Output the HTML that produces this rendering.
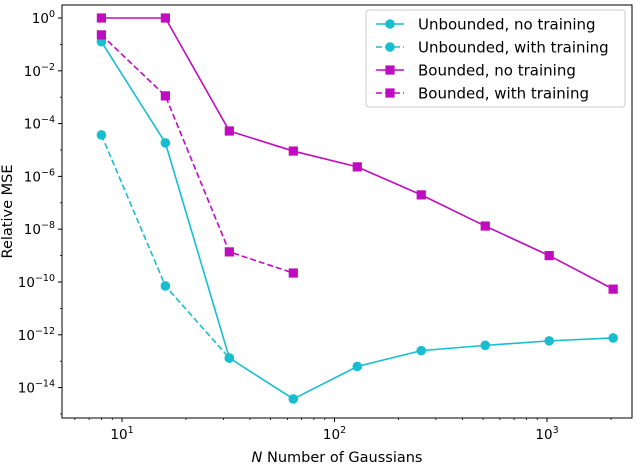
<!DOCTYPE html>
<html><head><meta charset="utf-8"><style>
body{margin:0;background:#fff;}
svg{font-family:"DejaVu Sans","Liberation Sans",sans-serif;}
</style></head><body>
<svg id="chart" width="640" height="466" xmlns="http://www.w3.org/2000/svg"></svg>
<script>
const nValues=[8,16,32,64,128,256,512,1024,2048];
const unboundedNoTrain=[-0.9,-4.73,-12.88,-14.43,-13.2,-12.6,-12.4,-12.23,-12.12];
const unboundedTrainN=[8,16,32];
const unboundedTrain=[-4.43,-10.15,-12.88];
const boundedNoTrain=[0,0,-4.28,-5.04,-5.64,-6.7,-7.88,-9.0,-10.27];
const boundedTrainN=[8,16,32,64];
const boundedTrain=[-0.64,-2.95,-8.86,-9.66];
const yTickExps=[0,-2,-4,-6,-8,-10,-12,-14];
const xTickExps=[1,2,3];

const svg=document.getElementById('chart');
const NS='http://www.w3.org/2000/svg';
const L=62,R=632,T=5,B=418;
function xs(n){return 122+212.5*(Math.log10(n)-1);}
function ys(e){return 18-26.4*e;}
function mk(tag,attrs,parent){const el=document.createElementNS(NS,tag);for(const k in attrs)el.setAttribute(k,attrs[k]);(parent||svg).appendChild(el);return el;}

const frame=mk('rect',{x:L,y:T,width:R-L,height:B-T,fill:'none',stroke:'#000','stroke-width':1});



xTickExps.forEach(e=>{
  const x=xs(Math.pow(10,e));
  const t=mk('line',{x1:x,x2:x,y1:B,y2:B+4,stroke:'#000'});
  
  
  const lb=mk('text',{x:x,y:B+21,'text-anchor':'middle','font-size':13.5});
  
  
  lb.innerHTML='10<tspan dy="-6" font-size="9.5">'+e+'</tspan>';
});
for(let d=0;d<4;d++){for(let m=2;m<10;m++){const n=m*Math.pow(10,d);const x=xs(n);if(x<L||x>R)continue;
  const t=mk('line',{x1:x,x2:x,y1:B,y2:B+2,stroke:'#000','stroke-width':0.8});
  
  }}
yTickExps.forEach(e=>{
  const y=ys(e);
  const t=mk('line',{x1:L-4,x2:L,y1:y,y2:y,stroke:'#000'});
  
  
  const lb=mk('text',{x:L-7,y:y+5,'text-anchor':'end','font-size':13.5});
  
  
  lb.innerHTML='10<tspan dy="-6" font-size="9.5">'+(e<0?'\u2212'+(-e):e)+'</tspan>';
});
for(let e=1;e>=-15;e-=2){const y=ys(e);if(y<T||y>B)continue;
  const t=mk('line',{x1:L-2,x2:L,y1:y,y2:y,stroke:'#000','stroke-width':0.8});
  
  }

const xt=mk('text',{x:(L+R)/2-10,y:462,'text-anchor':'middle','font-size':14.5});


xt.innerHTML='<tspan font-style="italic">N</tspan> Number of Gaussians';
const yt=mk('text',{x:12,y:(T+B)/2,'text-anchor':'middle','font-size':14.5,transform:'rotate(-90 12 '+(T+B)/2+')'});


yt.textContent='Relative MSE';

const cyan='#17becf',mag='#c00bc0';
function series(name,xsArr,ysArr,color,dash,marker){
  const g=mk('g',{});
  
  
  const pts=xsArr.map((n,i)=>xs(n)+','+ys(ysArr[i])).join(' ');
  mk('polyline',{points:pts,fill:'none',stroke:color,'stroke-width':1.6,'stroke-dasharray':dash?'6,3':'none'},g);
  xsArr.forEach((n,i)=>{
    let m;
    if(marker==='o')m=mk('circle',{cx:xs(n),cy:ys(ysArr[i]),r:4.8,fill:color},g);
    else m=mk('rect',{x:xs(n)-4.6,y:ys(ysArr[i])-4.6,width:9.2,height:9.2,fill:color},g);
    
    
  });
}
series('unbounded-no-training',nValues,unboundedNoTrain,cyan,false,'o');
series('unbounded-with-training',unboundedTrainN,unboundedTrain,cyan,true,'o');
series('bounded-no-training',nValues,boundedNoTrain,mag,false,'s');
series('bounded-with-training',boundedTrainN,boundedTrain,mag,true,'s');

const lg=mk('g',{});


mk('rect',{x:366,y:10,width:259,height:97,rx:3,fill:'#fff','fill-opacity':0.8,stroke:'#ccc'},lg);
const entries=[['Unbounded, no training',cyan,false,'o'],['Unbounded, with training',cyan,true,'o'],['Bounded, no training',mag,false,'s'],['Bounded, with training',mag,true,'s']];
entries.forEach((en,i)=>{
  const y=24+i*23;
  const e=mk('g',{},lg);
  
  
  mk('line',{x1:376,x2:404,y1:y,y2:y,stroke:en[1],'stroke-width':1.6,'stroke-dasharray':en[2]?'6,3':'none'},e);
  if(en[3]==='o')mk('circle',{cx:390,cy:y,r:4.8,fill:en[1]},e);
  else mk('rect',{x:385.4,y:y-4.6,width:9.2,height:9.2,fill:en[1]},e);
  const t=mk('text',{x:418,y:y+5.5,'font-size':15},e);
  t.textContent=en[0];
});
</script>
</body></html>
